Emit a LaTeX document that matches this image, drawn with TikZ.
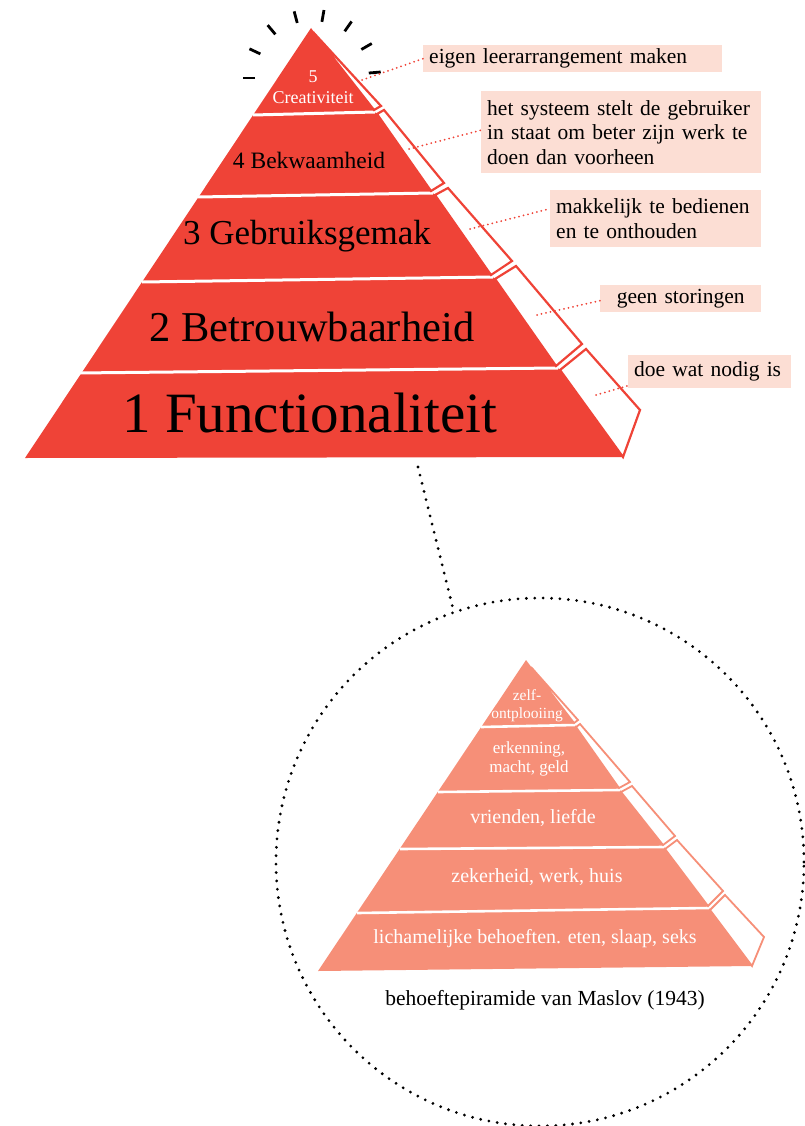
\documentclass[tikz,border=0pt]{standalone}
\usepackage{fontspec}
\setmainfont{Liberation Serif}
\usetikzlibrary{calc}
\definecolor{pyrred}{HTML}{EF4337}
\definecolor{pyrsalmon}{HTML}{F68F78}
\definecolor{notefill}{HTML}{FCDED4}

\tikzset{
  sidered/.style={draw=pyrred,fill=white,line width=2.2pt,line join=miter},
  sidesalmon/.style={draw=pyrsalmon,fill=white,line width=1.8pt,line join=miter},
  layercut/.style={draw=white,line width=3pt},
  note/.style={fill=notefill,anchor=north west,inner xsep=6pt,inner ysep=0pt,align=left,
    font=\fontsize{21.5}{24.5}\selectfont},
  leader/.style={draw=pyrred,line width=2pt,line cap=round,dash pattern=on 0pt off 4.6pt},
  dotline/.style={draw=black,line width=3.1pt,line cap=round,dash pattern=on 0pt off 8.4pt},
  ray/.style={draw=black,line width=2.8pt},
  biglabel/.style={text=black,inner sep=0pt},
  smalllabel/.style={text=white,inner sep=0pt,align=center},
}

\begin{document}
\begin{tikzpicture}[x=1pt,y=-1pt]
\useasboundingbox (0,0) rectangle (805,1126);
% rays round the top
\coordinate (glow) at (312,78);
\foreach \a in {180,155,...,5}
  \draw[ray] ($(glow)+(-\a:57)$) -- ($(glow)+(-\a:69)$);
% big pyramid, front face and layer cuts
\fill[pyrred] (311,28) -- (375,112) -- (433,193) -- (493,277) -- (558,368) -- (623,457) -- (25,458) -- cycle;
\draw[layercut] (253,115) -- (375,112);
\draw[layercut] (198,197) -- (433,193);
\draw[layercut] (142,282) -- (493,277);
\draw[layercut] (77,373) -- (558,368);
% big pyramid, side face in five pieces
\draw[sidered] (313,32) -- (381,106) -- (374,110) -- cycle;
\draw[sidered] (377,114) -- (384,110) -- (444,183) -- (431,191) -- cycle;
\draw[sidered] (435,195) -- (448,188) -- (512,261) -- (491,275) -- cycle;
\draw[sidered] (495,279) -- (516,266) -- (582,344) -- (556,366) -- cycle;
\draw[sidered] (560,370) -- (586,349) -- (640,410) -- (623,457) -- cycle;
% layer names
\node[smalllabel,font=\fontsize{18}{21}\selectfont] (l5) at (313,87) {5\\Creativiteit};
\node[biglabel,font=\fontsize{23.5}{28}\selectfont] (l4) at (309,160) {4 Bekwaamheid};
\node[biglabel,font=\fontsize{35}{40}\selectfont] (l3) at (307,236) {3 Gebruiksgemak};
\node[biglabel,font=\fontsize{42.5}{48}\selectfont] (l2) at (312,327) {2 Betrouwbaarheid};
\node[biglabel,font=\fontsize{57}{64}\selectfont] (l1) at (310,413) {1 Functionaliteit};
% notes beside the layers
\node[note,text width=287pt,minimum height=27pt] (n5) at (423,45) {eigen leerarrangement maken};
\node[note,text width=268pt,minimum height=82pt] (n4) at (481,91) {het systeem stelt de gebruiker\\in staat om beter zijn werk te\\doen dan voorheen};
\node[note,text width=199pt,minimum height=57pt] (n3) at (550,190) {makkelijk te bedienen\\en te onthouden};
\node[note,text width=149pt,minimum height=27pt,align=center] (n2) at (600,285) {geen storingen};
\node[note,text width=151pt,minimum height=33pt] (n1) at (628,355) {doe wat nodig is};
\coordinate (f5) at (362,80);
\coordinate (f4) at (409,149);
\coordinate (f3) at (470,229);
\coordinate (f2) at (537,315);
\coordinate (f1) at (596,395);
\draw[leader] (f5) -- (n5.west);
\draw[leader] (f4) -- ([yshift=2pt]n4.west);
\draw[leader] (f3) -- ([yshift=10pt]n3.west);
\draw[leader] (f2) -- ([yshift=-2pt]n2.west);
\draw[leader] (f1) -- ([yshift=-14pt]n1.west);
% magnifying circle
\node[circle,dotline,minimum size=528pt,inner sep=0pt] (lens) at (540,862) {};
\coordinate (drop) at (418,467);
\draw[dotline] (drop) -- (lens.109);
% small pyramid
\fill[pyrsalmon] (526,660) -- (575,725) -- (620,790) -- (664,847) -- (709,908) -- (752,966) -- (318,971) -- cycle;
\draw[layercut,line width=2.6pt] (481,727) -- (575,725);
\draw[layercut,line width=2.6pt] (438,792) -- (620,790);
\draw[layercut,line width=2.6pt] (400,849) -- (664,847);
\draw[layercut,line width=2.6pt] (357,913) -- (709,908);
\draw[sidesalmon] (531,667) -- (578,720) -- (574,723) -- cycle;
\draw[sidesalmon] (576,727) -- (580,724) -- (630,782) -- (619,788) -- cycle;
\draw[sidesalmon] (621,792) -- (632,786) -- (675,836) -- (663,845) -- cycle;
\draw[sidesalmon] (665,849) -- (677,840) -- (723,891) -- (708,906) -- cycle;
\draw[sidesalmon] (710,910) -- (725,895) -- (764,937) -- (752,966) -- cycle;
\node[smalllabel,font=\fontsize{15.5}{18}\selectfont] (m5) at (527,706) {zelf-\\ontplooiing};
\node[smalllabel,font=\fontsize{17}{19}\selectfont] (m4) at (529,759) {erkenning,\\macht, geld};
\node[smalllabel,font=\fontsize{20}{24}\selectfont] (m3) at (533,818) {vrienden, liefde};
\node[smalllabel,font=\fontsize{20}{24}\selectfont] (m2) at (537,877) {zekerheid, werk, huis};
\node[smalllabel,font=\fontsize{20}{24}\selectfont] (m1) at (535,939) {lichamelijke behoeften. eten, slaap, seks};
\node[biglabel,font=\fontsize{21.5}{24}\selectfont] (cap) at (545,1000) {behoeftepiramide van Maslov (1943)};
\end{tikzpicture}
\end{document}
